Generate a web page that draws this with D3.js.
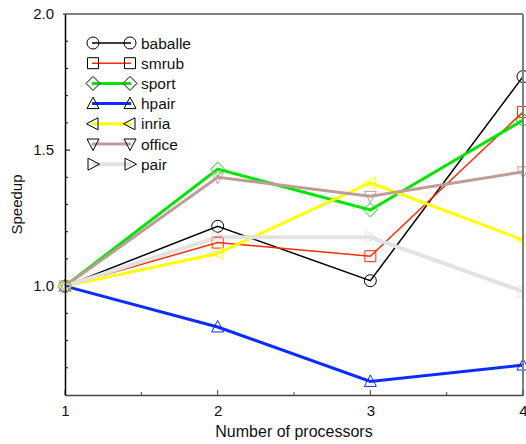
<!DOCTYPE html>
<html>
<head>
<meta charset="utf-8">
<script src="https://cdn.jsdelivr.net/npm/d3@7"></script>
<style>
  body { margin: 0; background: #fff; }
  text { font-family: "Liberation Sans", Arial, sans-serif; fill: #111; }
</style>
</head>
<body>
<svg id="chart" width="526" height="444"></svg>
<script>
// processors on the x axis
let processors = [1, 2, 3, 4]

let seriesNames = ["baballe", "smrub", "sport", "hpair", "inria", "office", "pair"]
let baballe = [1.0, 1.22, 1.02, 1.77]
let smrub   = [1.0, 1.16, 1.11, 1.64]
let sport   = [1.0, 1.43, 1.28, 1.61]
let hpair   = [1.0, 0.85, 0.65, 0.71]
let inria   = [1.0, 1.12, 1.38, 1.17]
let office  = [1.0, 1.40, 1.33, 1.42]
let pair    = [1.0, 1.18, 1.18, 0.98]

let xTicks = [1, 2, 3, 4]
let yTicks = [1.0, 1.5, 2.0]

let colours = ["#000000", "#ff2a00", "#00e600", "#0a2cff", "#ffff00", "#c09c98", "#e2e2e2"]
let widths  = [1.5, 1.5, 3, 3, 3, 3, 4]
let shapes  = ["circle", "square", "diamond", "up", "left", "down", "right"]

let series = [baballe, smrub, sport, hpair, inria, office, pair]
  .map((vals, i) => ({ name: seriesNames[i], vals, colour: colours[i], width: widths[i], shape: shapes[i] }))

let width = 526, height = 444
let margin = { left: 65, right: 3, top: 14, bottom: 49 }

let svg = d3.select("#chart")

let x = d3.scaleLinear().domain([1, 4]).range([margin.left, width - margin.right])
let y = d3.scaleLinear().domain([0.6, 2.0]).range([height - margin.bottom, margin.top])

// marker path centred on 0,0
function marker (shape) {
  let p = d3.path()
  switch (shape) {
    case "circle": p.arc(0, 0, 6, 0, 2 * Math.PI); break
    case "square": p.rect(-5.5, -5.5, 11, 11); break
    case "diamond": p.moveTo(0, -7); p.lineTo(7, 0); p.lineTo(0, 7); p.lineTo(-7, 0); p.closePath(); break
    case "up": p.moveTo(0, -6.5); p.lineTo(6, 5); p.lineTo(-6, 5); p.closePath(); break
    case "down": p.moveTo(0, 6.5); p.lineTo(6, -5); p.lineTo(-6, -5); p.closePath(); break
    case "left": p.moveTo(-6.5, 0); p.lineTo(5, -6); p.lineTo(5, 6); p.closePath(); break
    case "right": p.moveTo(6.5, 0); p.lineTo(-5, -6); p.lineTo(-5, 6); p.closePath(); break
  }
  return p.toString()
}

let line = d3.line()
  .x((d, i) => x(processors[i]))
  .y(d => y(d))

let plot = svg.append("g")

plot.selectAll(".series")
  .data(series)
  .enter().append("path")
  .attr("class", "series")
  .attr("d", d => line(d.vals))
  .attr("fill", "none")
  .attr("stroke", d => d.colour)
  .attr("stroke-width", d => d.width)
  .attr("stroke-linejoin", "miter")

series.forEach(s => {
  plot.selectAll(null)
    .data(s.vals)
    .enter().append("path")
    .attr("transform", (d, i) => `translate(${x(processors[i])},${y(d)})`)
    .attr("d", marker(s.shape))
    .attr("fill", "none")
    .attr("stroke", s.colour)
    .attr("stroke-width", 1)
})

// frame: top and right are gray
svg.append("line")
  .attr("x1", margin.left - 2).attr("x2", width - margin.right)
  .attr("y1", margin.top).attr("y2", margin.top)
  .attr("stroke", "#808080").attr("stroke-width", 2)
svg.append("line")
  .attr("x1", width - margin.right).attr("x2", width - margin.right)
  .attr("y1", margin.top).attr("y2", height - margin.bottom)
  .attr("stroke", "#808080").attr("stroke-width", 2)

// axes with inward ticks
let xAxis = svg.append("g")
  .attr("transform", `translate(0,${height - margin.bottom})`)
  .call(d3.axisBottom(x).tickValues(xTicks).tickFormat(d3.format("d")).tickSize(0).tickPadding(10))
xAxis.select(".domain").attr("stroke", "#444").attr("stroke-width", 1.5)
xAxis.selectAll("text").attr("font-size", 15).attr("fill", "#111")
xAxis.selectAll(".minor")
  .data([1.5, 2.5, 3.5])
  .enter().append("line")
  .attr("class", "minor")
  .attr("x1", d => x(d)).attr("x2", d => x(d))
  .attr("y1", 0).attr("y2", -3)
  .attr("stroke", "#444")
xAxis.selectAll(".major")
  .data(xTicks)
  .enter().append("line")
  .attr("class", "major")
  .attr("x1", d => x(d)).attr("x2", d => x(d))
  .attr("y1", 0).attr("y2", -5)
  .attr("stroke", "#444")

let yAxis = svg.append("g")
  .attr("transform", `translate(${margin.left},0)`)
  .call(d3.axisLeft(y).tickValues(yTicks).tickFormat(d3.format(".1f")).tickSize(0).tickPadding(11))
yAxis.select(".domain").attr("stroke", "#000").attr("stroke-width", 1.5)
yAxis.selectAll("text").attr("font-size", 15).attr("fill", "#111")
yAxis.selectAll(".minor")
  .data(d3.range(7, 20).map(v => v / 10))
  .enter().append("line")
  .attr("class", "minor")
  .attr("x1", 0).attr("x2", d => yTicks.includes(d) ? 5 : 3)
  .attr("y1", d => y(d)).attr("y2", d => y(d))
  .attr("stroke", "#000")

svg.append("text")
  .attr("x", (margin.left + width - margin.right) / 2)
  .attr("y", 437)
  .attr("text-anchor", "middle")
  .attr("font-size", 16)
  .text("Number of processors")

svg.append("text")
  .attr("transform", `translate(22,${(margin.top + height - margin.bottom) / 2}) rotate(-90)`)
  .attr("text-anchor", "middle")
  .attr("font-size", 15)
  .text("Speedup")

// legend
let legend = svg.append("g")
  .selectAll("g")
  .data(series)
  .enter().append("g")
  .attr("transform", (d, i) => `translate(0,${43 + i * 20.2})`)

legend.append("line")
  .attr("x1", 92).attr("x2", 131)
  .attr("y1", 0).attr("y2", 0)
  .attr("stroke", d => d.colour)
  .attr("stroke-width", d => d.width)
legend.append("path")
  .attr("transform", "translate(93,0)")
  .attr("d", d => marker(d.shape))
  .attr("fill", "none").attr("stroke", "#000")
legend.append("path")
  .attr("transform", "translate(130,0)")
  .attr("d", d => marker(d.shape))
  .attr("fill", "none").attr("stroke", "#000")
legend.append("text")
  .attr("x", 141)
  .attr("y", 5.5)
  .attr("font-size", 15.5)
  .text(d => d.name)
</script>
</body>
</html>
